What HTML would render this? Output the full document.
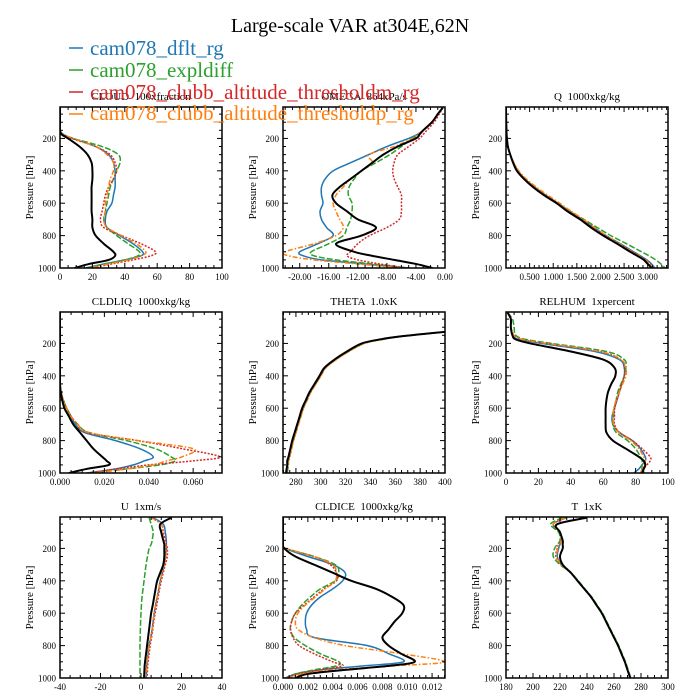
<!DOCTYPE html>
<html><head><meta charset="utf-8">
<style>
html,body{margin:0;padding:0;background:#fff;}
svg{display:block;font-family:"Liberation Serif",serif;}
text{white-space:pre;}
</style></head>
<body>
<svg id="chart" width="700" height="700" viewBox="0 0 700 700" xmlns="http://www.w3.org/2000/svg">
<rect x="0" y="0" width="700" height="700" fill="#fff"/>
<text x="350" y="32" font-size="20" text-anchor="middle" fill="#000">Large-scale VAR at304E,62N</text>
<g id="panels"></g>
<g>
 <g><line x1="69" y1="48" x2="83" y2="48" stroke="#1f77b4" stroke-width="1.5"/><text x="90" y="55" font-size="21" fill="#1f77b4">cam078_dflt_rg</text></g>
 <g><line x1="69" y1="70" x2="83" y2="70" stroke="#2ca02c" stroke-width="1.5"/><text x="90" y="77" font-size="21" fill="#2ca02c">cam078_expldiff</text></g>
 <g><line x1="69" y1="92" x2="83" y2="92" stroke="#d62728" stroke-width="1.5"/><text x="90" y="99" font-size="21" fill="#d62728">cam078_clubb_altitude_thresholdm_rg</text></g>
 <g><line x1="69" y1="114" x2="83" y2="114" stroke="#ff7f0e" stroke-width="1.5"/><text x="90" y="120" font-size="21" fill="#ff7f0e">cam078_clubb_altitude_thresholdp_rg</text></g>
</g>
</svg>
<script>
const pressure = [10,50,100,150,175,200,250,300,350,400,450,500,550,600,650,700,750,800,850,900,925,950,975,1000];

const cloudBlack = [0,0,0,0,1,5,12,17,19.5,20,20,19.5,19.5,19.5,19.5,20,20,22,27,33,34,30,18,9];
const cloudBlue = [0,0,0,0,2,8,22,30,33,34,34,34,33,32,29,28,29,37,45,51,50,40,27,16];
const cloudGreen = [0,0,0,0,2,8,26,36,37,35,33,31,30,29,28,27,29,35,42,49,48,40,28,17];
const cloudRed = [0,0,0,0,2,7,22,31,34,35,33,30,28,27,26,25,27,38,50,59,56,45,32,20];
const cloudOrange = [0,0,0,0,2,8,22,29,33,33,31,30,29,28,28,27,29,38,47,53,50,42,30,18];

const omegaBlack = [-0.3,-1,-1.8,-3,-3.5,-4,-6.5,-8.5,-10,-11.5,-13,-14.5,-15.5,-15,-13.5,-12,-9.5,-11.5,-15,-12.5,-10,-7,-4,-1.7];
const omegaBlue = [-0.3,-1,-1.8,-3,-3.8,-5,-8,-10.5,-13,-15.4,-16.5,-17,-17,-16.8,-17.2,-17,-16.3,-15.4,-17.5,-20,-19.5,-17,-11,-5];
const omegaGreen = [-0.3,-1,-1.8,-3,-3.5,-4.5,-6,-7.6,-9.5,-11.5,-12.5,-13.2,-13.3,-12.8,-12.8,-13,-13.5,-14,-16,-18.4,-18,-15,-10,-5];
const omegaRed = [-0.3,-0.8,-1.5,-2.5,-3,-3.5,-5,-6.5,-7,-7.2,-7,-6.5,-6,-6,-6,-6.3,-8,-10.4,-12,-13,-13.5,-12,-9,-5.5];
const omegaOrange = [-0.3,-1,-1.8,-3,-3.8,-4.5,-7,-10.5,-10,-11.5,-13,-14,-15,-15.4,-15,-14.5,-14,-15,-18,-22,-21.5,-18,-12,-6];

const qBlack = [0,0.002,0.005,0.01,0.013,0.02,0.04,0.09,0.15,0.23,0.38,0.57,0.8,1.07,1.3,1.57,1.8,2.06,2.35,2.63,2.78,2.92,3.0,3.09];
const qBlue = [0,0.002,0.005,0.01,0.013,0.02,0.04,0.09,0.16,0.25,0.4,0.6,0.84,1.1,1.34,1.62,1.86,2.12,2.42,2.7,2.85,2.98,3.08,3.15];
const qGreen = [0,0.002,0.005,0.01,0.013,0.02,0.04,0.09,0.16,0.25,0.4,0.6,0.83,1.1,1.36,1.65,1.93,2.22,2.55,2.87,3.03,3.17,3.28,3.37];
const qRed = [0,0.002,0.005,0.01,0.013,0.02,0.04,0.09,0.16,0.25,0.4,0.6,0.83,1.09,1.33,1.6,1.84,2.1,2.4,2.68,2.83,2.96,3.05,3.12];
const qOrange = [0,0.002,0.005,0.01,0.013,0.02,0.04,0.09,0.17,0.27,0.43,0.64,0.88,1.14,1.38,1.64,1.87,2.12,2.4,2.67,2.82,2.95,3.04,3.1];

const liqBlack = [0,0,0,0,0,0,0,0,0,0,0,0.0003,0.001,0.002,0.004,0.006,0.009,0.012,0.015,0.019,0.021,0.022,0.012,0.004];
const liqBlue = [0,0,0,0,0,0,0,0,0,0,0,0.0005,0.0015,0.003,0.005,0.007,0.011,0.025,0.036,0.042,0.038,0.033,0.025,0.012];
const liqGreen = [0,0,0,0,0,0,0,0,0,0,0,0.0005,0.0015,0.003,0.005,0.008,0.013,0.03,0.043,0.05,0.052,0.045,0.03,0.015];
const liqRed = [0,0,0,0,0,0,0,0,0,0,0,0.0005,0.0015,0.003,0.005,0.008,0.012,0.035,0.055,0.072,0.06,0.04,0.025,0.013];
const liqOrange = [0,0,0,0,0,0,0,0,0,0,0,0.0005,0.0015,0.003,0.005,0.008,0.013,0.035,0.06,0.055,0.048,0.042,0.03,0.015];

const thetaBlack = [900,600,450,372,348,333,321,311,303,299,295,291,288,285,283,281,279,277,275.5,274,273,273,272.5,272];
const thetaBlue = [900,600,450,372,349,334,322,312,303.5,299.5,295.5,291.5,288.5,285.5,283.5,281.5,279.5,277.5,276,274.5,273.5,273.5,273,272.5];
const thetaGreen = [900,600,450,373,350,335,322.5,312,304,300,296,292,289,286,284,282,280,278,276.5,275,274,274,273.5,273];
const thetaRed = [900,600,450,372,349,334,322,312,304,300,296,292,289,286,284,282,280,278,276.5,275,274,273.5,273,272.5];
const thetaOrange = [900,600,450,373,350,335,322.5,312.5,304,300,296,292,289,286,284,282,280,278,276.5,275,274,273.5,273,272.5];

const rhBlack = [1,3,3,4,6,15,40,60,67,67.5,65,63,62,61.5,61.5,61.5,62,66,74,82,85,86,85,84];
const rhBlue = [1,3,3,4,8,22,55,70,73,73,71.5,70,68.5,67,65.5,66,70,78,83,86,86,84,82,79];
const rhGreen = [1,4,5,6,12,28,62,73,74,73,71,69,68,67,66.5,66,68,75,80,83,84,84,84,85];
const rhRed = [1,3,3,5,10,25,58,71,73,73,71.5,70,68.5,67,67,67,70,78,84,89,89,87,85,84];
const rhOrange = [1,3,3,5,10,25,58,71,74,74,72,70,68,66.5,66,66.5,69.5,77,82,85,86,85,84,83];

const uBlack = [15,9.5,10,11,11.5,11.5,11.5,11,9.5,8,7.2,6.5,5.8,5,4.5,4,3.5,3,2.5,2,1.8,1.7,1.6,1.5];
const uBlue = [6,11,12,12.5,12.5,12.5,12,11.5,10.5,9.5,8.8,8,7.2,6.5,6,5.5,4.8,4,3.5,3,2.8,2.7,2.6,2.5];
const uGreen = [4,5,6,5.5,5,4,3.2,2.5,2,1.5,1,0.5,0.2,0,-0.2,-0.3,-0.4,-0.5,-0.5,-0.5,-0.5,-0.5,-0.5,-0.5];
const uRed = [5,10,11,12,12.5,13,13,12,11,10,9.2,8.5,7.8,7,6.3,5.8,5.2,4.5,4,3.5,3.3,3.2,3.1,3];
const uOrange = [5,10,10.5,11.5,12,12.5,12.3,11.5,10.5,9.5,8.8,8,7.2,6.5,6,5.5,4.8,4,3.5,3,2.8,2.7,2.6,2.5];

const iceBlack = [0,0,0,0,0,0.0001,0.001,0.0025,0.004,0.0055,0.0075,0.0088,0.0097,0.0096,0.009,0.0085,0.008,0.0085,0.0095,0.0106,0.0085,0.005,0.002,0.001];
const iceBlue = [0,0,0,0,0,0.0002,0.002,0.004,0.005,0.0048,0.004,0.003,0.0023,0.0019,0.0018,0.0019,0.0025,0.0068,0.0085,0.0097,0.0065,0.003,0.001,0.0003];
const iceGreen = [0,0,0,0,0,0.0002,0.0025,0.0042,0.0045,0.0042,0.003,0.0022,0.0015,0.001,0.0007,0.0006,0.0009,0.0018,0.003,0.0045,0.0043,0.0025,0.001,0.0002];
const iceRed = [0,0,0,0,0,0.0002,0.0025,0.0038,0.0043,0.0043,0.0033,0.0025,0.0017,0.001,0.0007,0.0006,0.0008,0.0013,0.0025,0.004,0.0048,0.003,0.0012,0.0003];
const iceOrange = [0,0,0,0,0,0.0002,0.0025,0.004,0.0043,0.0042,0.0034,0.0026,0.0018,0.0012,0.001,0.0012,0.0025,0.005,0.0095,0.013,0.009,0.004,0.0015,0.0005];

const tBlack = [240,218,220,222,222,222,220,222,228,233,238,243,247,251,254,257,260,263,265.5,268,269,270,271,272];
const tBlue = [225,215,220,221,220,219,218,221,228,233,238,243,247,251,254,257,260,263,265.5,268,269,270,271,272];
const tGreen = [222,213,219,220,218,216,215,220,228,233.5,238.5,243.5,247.5,251.5,254.5,257.5,260.5,263.5,266,268.5,269.5,270.5,271.5,272.5];
const tRed = [224,215,220,221,219,218,217,221,228,233,238,243,247,251,254,257,260,263,265.5,268,269,270,271,272];
const tOrange = [224,215,220,221,219.5,218.5,217.5,221,228,233,238,243,247,251,254,257,260,263,265.5,268,269,270,271,272];

const cloudTicks = ["0","20","40","60","80","100"];
const omegaTicks = ["-20.00","-16.00","-12.00","-8.00","-4.00","0.00"];
const qTicks = ["0.500","1.000","1.500","2.000","2.500","3.000"];
const liqTicks = ["0.000","0.020","0.040","0.060"];
const thetaTicks = ["280","300","320","340","360","380","400"];
const rhTicks = ["0","20","40","60","80","100"];
const uTicks = ["-40","-20","0","20","40"];
const iceTicks = ["0.000","0.002","0.004","0.006","0.008","0.010","0.012"];
const tTicks = ["180","200","220","240","260","280","300"];
const pTicks = ["200","400","600","800","1000"];
const panelTitles = ["CLOUD  100xfraction","OMEGA  864xPa/s","Q  1000xkg/kg","CLDLIQ  1000xkg/kg","THETA  1.0xK","RELHUM  1xpercent","U  1xm/s","CLDICE  1000xkg/kg","T  1xK"];

const NS = "http://www.w3.org/2000/svg";
const styles = [
  {c:"#1f77b4", d:"", w:1.5, n:"dflt"},
  {c:"#2ca02c", d:"6,2", w:1.5, n:"expldiff"},
  {c:"#d62728", d:"2,1.5", w:1.5, n:"thresholdm"},
  {c:"#ff7f0e", d:"5,2,1.5,2", w:1.5, n:"thresholdp"},
  {c:"#000000", d:"", w:2, n:"reference"}
];
const panels = [
  {key:"cloud", x:60, y:107, xmin:0, xmax:100, ticks:cloudTicks, minor:5, s:[cloudBlue,cloudGreen,cloudRed,cloudOrange,cloudBlack]},
  {key:"omega", x:283, y:107, xmin:-22.3, xmax:0, ticks:omegaTicks, minor:1, s:[omegaBlue,omegaGreen,omegaRed,omegaOrange,omegaBlack]},
  {key:"q", x:506, y:107, xmin:0, xmax:3.43, ticks:qTicks, minor:0.1, s:[qBlue,qGreen,qRed,qOrange,qBlack]},
  {key:"cldliq", x:60, y:312, xmin:0, xmax:0.073, ticks:liqTicks, minor:0.005, s:[liqBlue,liqGreen,liqRed,liqOrange,liqBlack]},
  {key:"theta", x:283, y:312, xmin:269.6, xmax:400, ticks:thetaTicks, minor:5, s:[thetaBlue,thetaGreen,thetaRed,thetaOrange,thetaBlack]},
  {key:"relhum", x:506, y:312, xmin:0, xmax:100, ticks:rhTicks, minor:5, s:[rhBlue,rhGreen,rhRed,rhOrange,rhBlack]},
  {key:"u", x:60, y:517, xmin:-40, xmax:40, ticks:uTicks, minor:5, s:[uBlue,uGreen,uRed,uOrange,uBlack]},
  {key:"cldice", x:283, y:517, xmin:0, xmax:0.01304, ticks:iceTicks, minor:0.0005, s:[iceBlue,iceGreen,iceRed,iceOrange,iceBlack]},
  {key:"t", x:506, y:517, xmin:180, xmax:300, ticks:tTicks, minor:5, s:[tBlue,tGreen,tRed,tOrange,tBlack]}
];
const W = 162, H = 161, PTOP = 6, PBOT = 1000;
const root = document.getElementById("panels");
function mk(tag, attrs, parent){ const e=document.createElementNS(NS,tag); for(const k in attrs) e.setAttribute(k,attrs[k]); if(parent) parent.appendChild(e); return e; }
function smoothPath(pts){
  let d = "M" + pts[0][0].toFixed(2) + "," + pts[0][1].toFixed(2);
  for (let i = 0; i < pts.length - 1; i++) {
    const p0 = pts[Math.max(0,i-1)], p1 = pts[i], p2 = pts[i+1], p3 = pts[Math.min(pts.length-1,i+2)];
    const t = 1/6;
    const c1x = p1[0] + (p2[0]-p0[0])*t, c1y = p1[1] + (p2[1]-p0[1])*t;
    const c2x = p2[0] - (p3[0]-p1[0])*t, c2y = p2[1] - (p3[1]-p1[1])*t;
    d += "C" + c1x.toFixed(2) + "," + c1y.toFixed(2) + " " + c2x.toFixed(2) + "," + c2y.toFixed(2) + " " + p2[0].toFixed(2) + "," + p2[1].toFixed(2);
  }
  return d;
}

panels.forEach((p, idx) => {
  const xs = v => p.x + (v - p.xmin) / (p.xmax - p.xmin) * W;
  const ys = v => p.y + (v - PTOP) / (PBOT - PTOP) * H;
  const g = mk("g", {}, root);
  
  
  const defs = mk("defs", {}, g);
  const cp = mk("clipPath", {id:"clip"+idx}, defs);
  mk("rect", {x:p.x, y:p.y, width:W, height:H}, cp);
  const title = mk("text", {x:p.x+W/2, y:p.y-7, "font-size":"11", "text-anchor":"middle", fill:"#000"}, g);
  title.textContent = panelTitles[idx];
  
  
  const ylab = mk("text", {x:0, y:0, "font-size":"11", "text-anchor":"middle", fill:"#000", transform:"translate("+(p.x-27)+","+(p.y+H/2)+") rotate(-90)"}, g);
  ylab.textContent = "Pressure [hPa]";
  
  
  const sg = mk("g", {"clip-path":"url(#clip"+idx+")"}, g);
  p.s.forEach((vals, si) => {
    const st = styles[si];
    const pts = vals.map((v, i) => [xs(v), ys(pressure[i])]);
    const path = mk("path", {d:smoothPath(pts), fill:"none", stroke:st.c, "stroke-width":st.w, "stroke-linejoin":"round"}, sg);
    if (st.d) path.setAttribute("stroke-dasharray", st.d);
    
    
  });
  const tg = mk("g", {stroke:"#000", "stroke-width":"1"}, g);
  const first = parseFloat(p.ticks[0]);
  const step = p.ticks.length > 1 ? parseFloat(p.ticks[1]) - first : 1;
  const nMin = Math.ceil((p.xmin) / p.minor - 1e-6), nMax = Math.floor(p.xmax / p.minor + 1e-6);
  for (let n = nMin; n <= nMax; n++) {
    const v = n * p.minor; const x = xs(v);
    const major = Math.abs(((v - first) / step) - Math.round((v - first) / step)) < 1e-6;
    const L = major ? 5 : 3;
    mk("line", {x1:x, y1:p.y+H, x2:x, y2:p.y+H-L}, tg);
    mk("line", {x1:x, y1:p.y, x2:x, y2:p.y+L}, tg);
  }
  for (let pv = 50; pv <= 1000; pv += 50) {
    const y = ys(pv); const L = (pv % 200 === 0) ? 5 : 3;
    mk("line", {x1:p.x, y1:y, x2:p.x+L, y2:y}, tg);
    mk("line", {x1:p.x+W, y1:y, x2:p.x+W-L, y2:y}, tg);
  }
  p.ticks.forEach(t => {
    const tx = mk("text", {x:xs(parseFloat(t)), y:p.y+H+12, "font-size":"9", "text-anchor":"middle", fill:"#000"}, g);
    tx.textContent = t;
    
    
  });
  pTicks.forEach(t => {
    const ty = mk("text", {x:p.x-4, y:ys(parseFloat(t))+3.5, "font-size":"9", "text-anchor":"end", fill:"#000"}, g);
    ty.textContent = t;
    
    
  });
  const frame = mk("rect", {x:p.x, y:p.y, width:W, height:H, fill:"none", stroke:"#000", "stroke-width":"1.5"}, g);
  
  
});
</script>
</body></html>
